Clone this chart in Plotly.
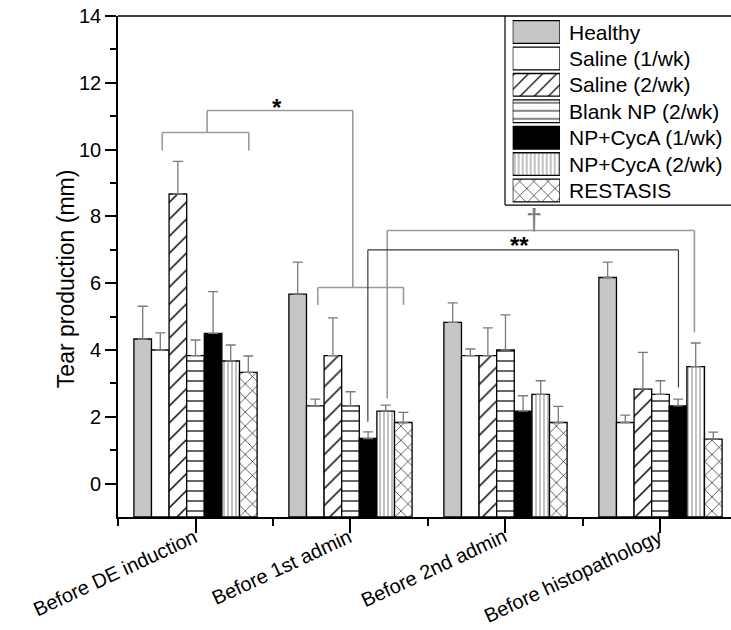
import plotly.graph_objects as go

# ---------------- data ----------------
categories = ["Before DE induction", "Before 1st admin", "Before 2nd admin", "Before histopathology"]
series_names = ["Healthy", "Saline (1/wk)", "Saline (2/wk)", "Blank NP (2/wk)",
                "NP+CycA (1/wk)", "NP+CycA (2/wk)", "RESTASIS"]

healthy = [4.33, 5.67, 4.83, 6.17]
saline_1wk = [4.00, 2.33, 3.83, 1.83]
saline_2wk = [8.67, 3.83, 3.83, 2.83]
blank_np_2wk = [3.83, 2.33, 4.00, 2.67]
np_cyca_1wk = [4.50, 1.35, 2.17, 2.33]
np_cyca_2wk = [3.67, 2.17, 2.67, 3.50]
restasis = [3.33, 1.83, 1.83, 1.33]

healthy_err = [0.98, 0.96, 0.58, 0.46]
saline_1wk_err = [0.51, 0.20, 0.20, 0.22]
saline_2wk_err = [0.98, 1.13, 0.83, 1.10]
blank_np_2wk_err = [0.47, 0.42, 1.05, 0.41]
np_cyca_1wk_err = [1.25, 0.20, 0.46, 0.20]
np_cyca_2wk_err = [0.48, 0.18, 0.41, 0.71]
restasis_err = [0.49, 0.30, 0.48, 0.21]

y_ticks = [0, 2, 4, 6, 8, 10, 12, 14]
y_title = "Tear production (mm)"

values = [healthy, saline_1wk, saline_2wk, blank_np_2wk, np_cyca_1wk, np_cyca_2wk, restasis]
errors = [healthy_err, saline_1wk_err, saline_2wk_err, blank_np_2wk_err,
          np_cyca_1wk_err, np_cyca_2wk_err, restasis_err]

# ---------------- styles ----------------
fills = ["#c6c6c6", "white", "white", "white", "black", "white", "white"]
shapes_pat = ["", "", "/", "-", "", "|", "x"]
pat_size_bar = [8, 8, 12, 10, 8, 4, 10]
pat_size_leg = [8, 8, 10, 8, 8, 4, 10]

FONT = "Liberation Sans, Arial, sans-serif"
W, H = 731, 630
L, R, T, B = 118, 731, 16, 516.7
YMIN = -1
x_idx = list(range(len(categories)))

def px_x(px):
    return (px - L) / (R - L)

def px_y(py):
    return (B - py) / (B - T)

def pattern(shape, fc, size):
    if shape:
        return dict(shape=shape, fgcolor="black", bgcolor=fc, size=size,
                    solidity=0.12, fillmode="replace")
    return dict(shape="")

fig = go.Figure()

for name, vals, errs, fc, sh, ps in zip(series_names, values, errors, fills, shapes_pat, pat_size_bar):
    fig.add_trace(go.Bar(
        name=name, x=x_idx, y=[v - YMIN for v in vals], base=YMIN,
        marker=dict(color=fc, line=dict(color="black", width=1.3), pattern=pattern(sh, fc, ps)),
        error_y=dict(type="data", symmetric=False, array=errs, arrayminus=[0] * len(errs),
                     color="#7a7a7a", thickness=1.3, width=5),
        showlegend=False,
    ))

# legend swatches drawn on an auxiliary axis (one bar per series, same offset group)
for i, (name, fc, sh, ps) in enumerate(zip(series_names, fills, shapes_pat, pat_size_leg)):
    fig.add_trace(go.Bar(
        x=[1], y=[i], orientation="h", width=0.86, offsetgroup="legend",
        xaxis="x2", yaxis="y2", showlegend=False, hoverinfo="skip",
        marker=dict(color=fc, line=dict(color="black", width=1.3), pattern=pattern(sh, fc, ps)),
    ))

row_c0, row_dy = 32.0, 26.4
annotations = []
for i, name in enumerate(series_names):
    annotations.append(dict(x=px_x(567), y=px_y(row_c0 + i * row_dy), xref="paper", yref="paper",
                            text=name, showarrow=False, xanchor="left", yanchor="middle",
                            font=dict(family=FONT, size=21, color="black")))

# rotated category labels
for xi, cat in zip(x_idx, categories):
    annotations.append(dict(x=xi, y=px_y(522), xref="x", yref="paper", text=cat, textangle=-25,
                            showarrow=False, xanchor="right", yanchor="top", xshift=7,
                            font=dict(family=FONT, size=20, color="black")))

# y-axis title
annotations.append(dict(x=px_x(66), y=px_y(279), xref="paper", yref="paper", text=y_title,
                        textangle=-90, showarrow=False, xanchor="center", yanchor="middle",
                        font=dict(family=FONT, size=23, color="black")))

# significance marks
annotations.append(dict(x=0.529, y=11.25, xref="x", yref="y", text="<b>*</b>", showarrow=False,
                        yanchor="middle", font=dict(family=FONT, size=24, color="black")))
annotations.append(dict(x=2.09, y=7.12, xref="x", yref="y", text="<b>**</b>", showarrow=False,
                        yanchor="middle", font=dict(family=FONT, size=24, color="black")))
annotations.append(dict(x=2.187, y=7.88, xref="x", yref="y", text="†", showarrow=False,
                        yanchor="middle", font=dict(family=FONT, size=29, color="#7a7a7a")))

GRAY = dict(color="#9a9a9a", width=1.6)
DARK = dict(color="#3a3a3a", width=1.2)

def seg(x0, y0, x1, y1, line):
    return dict(type="line", xref="x", yref="y", x0=x0, y0=y0, x1=x1, y1=y1, line=line)

shapes = [
    # bracket over first group and link
    seg(-0.215, 10.51, 0.344, 10.51, GRAY),
    seg(-0.215, 10.51, -0.215, 9.97, GRAY),
    seg(0.344, 10.51, 0.344, 9.97, GRAY),
    seg(0.075, 10.51, 0.075, 11.17, GRAY),
    seg(0.075, 11.17, 1.015, 11.17, GRAY),
    seg(1.015, 11.17, 1.015, 5.87, GRAY),
    # bracket over second group
    seg(0.789, 5.87, 1.342, 5.87, GRAY),
    seg(0.789, 5.87, 0.789, 5.35, GRAY),
    seg(1.342, 5.87, 1.342, 5.35, GRAY),
    # dagger bracket
    seg(1.237, 7.58, 3.219, 7.58, GRAY),
    seg(1.237, 7.58, 1.237, 2.55, GRAY),
    seg(3.219, 7.58, 3.219, 4.53, GRAY),
    # ** bracket
    seg(1.112, 7.0, 3.116, 7.0, DARK),
    seg(1.112, 7.0, 1.112, 1.85, DARK),
    seg(3.116, 7.0, 3.116, 2.88, DARK),
    # top frame line
    dict(type="line", xref="paper", yref="paper", x0=0, x1=1, y0=1, y1=1,
         line=dict(color="black", width=1.6)),
    # legend frame
    dict(type="line", xref="paper", yref="paper", x0=px_x(505), x1=px_x(505), y0=1, y1=px_y(205),
         line=dict(color="black", width=1.2)),
    dict(type="line", xref="paper", yref="paper", x0=px_x(505), x1=1, y0=px_y(205), y1=px_y(205),
         line=dict(color="black", width=1.2)),
]

row_top = row_c0 - row_dy / 2
row_bot = row_c0 + row_dy * (len(series_names) - 1) + row_dy / 2

fig.update_layout(
    width=W, height=H,
    margin=dict(l=L, r=W - R, t=T, b=H - B, pad=0, autoexpand=False),
    paper_bgcolor="white", plot_bgcolor="white",
    barmode="group", bargap=0.205, bargroupgap=0,
    font=dict(family=FONT, size=18, color="black"),
    xaxis=dict(range=[-0.5, 3.455], tickvals=x_idx, showticklabels=False,
               automargin=False,
               showline=True, linecolor="black", linewidth=1.6, ticks="outside", ticklen=14,
               tickwidth=1.5, tickcolor="black", showgrid=False, zeroline=False,
               minor=dict(tickvals=[-0.5, 0.5, 1.5, 2.5], ticks="outside", ticklen=7,
                          tickwidth=1.5, tickcolor="black", showgrid=False)),
    yaxis=dict(range=[YMIN, 14], tickvals=y_ticks, showline=True, linecolor="black", linewidth=1.6,
               automargin=False,
               ticks="outside", ticklen=11, tickwidth=1.5, tickcolor="black", showgrid=False,
               zeroline=False, tickfont=dict(family=FONT, size=20, color="black"),
               minor=dict(tickvals=[1, 3, 5, 7, 9, 11, 13], ticks="outside", ticklen=6,
                          tickwidth=1.5, tickcolor="black", showgrid=False)),
    xaxis2=dict(domain=[px_x(512.7), px_x(560)], range=[0, 1], anchor="y2", visible=False,
                fixedrange=True),
    yaxis2=dict(domain=[px_y(row_bot), px_y(row_top)], range=[len(series_names) - 0.5, -0.5],
                anchor="x2", visible=False, fixedrange=True),
    shapes=shapes, annotations=annotations,
)

fig.write_html("out.html")
